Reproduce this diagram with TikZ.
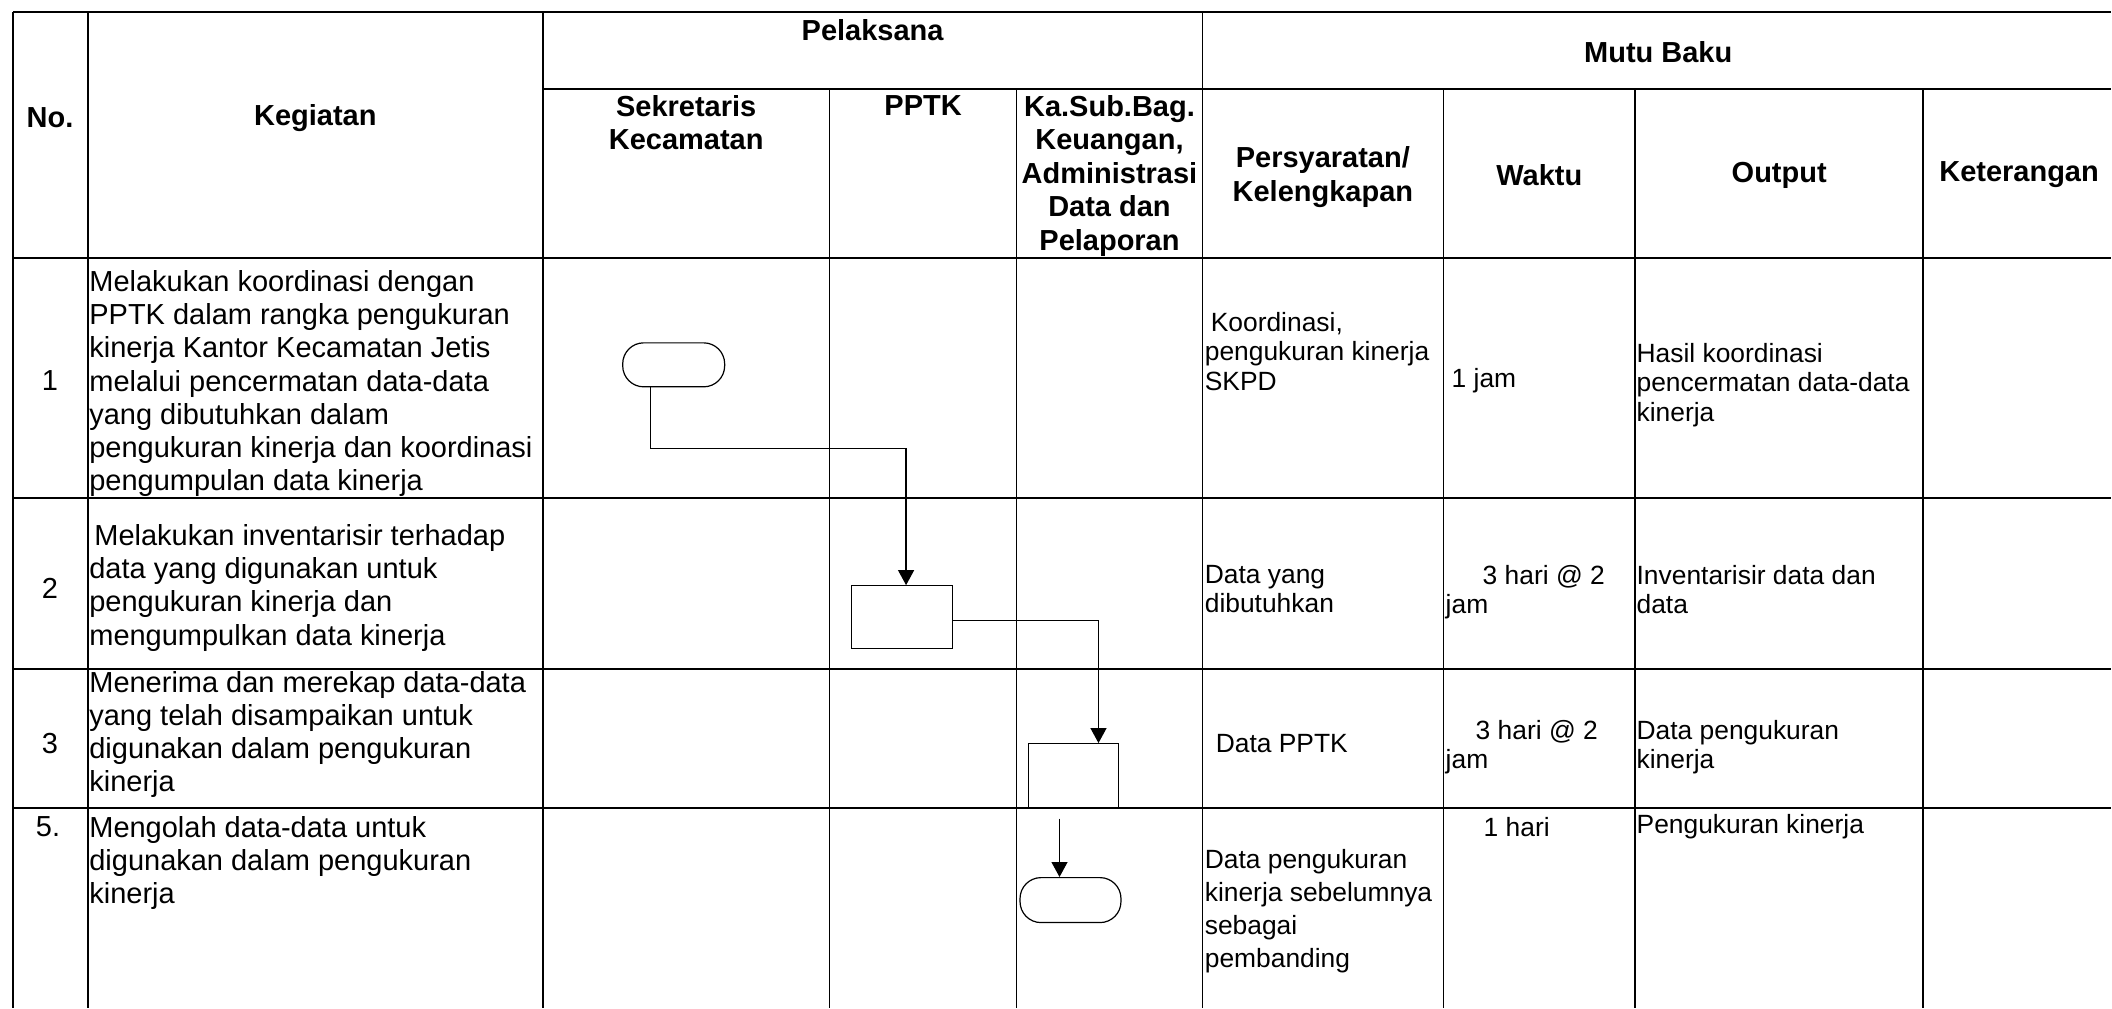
\documentclass[tikz,border=0pt]{standalone}
\usepackage{fontspec}
\setmainfont{Liberation Sans}
\usetikzlibrary{arrows.meta}

\begin{document}
\begin{tikzpicture}[x=0.5pt, y=-0.5pt,
    garis/.style={line width=0.8pt},
    garisrow/.style={line width=1pt},
    judul/.style={font=\fontsize{14.5}{16.75}\selectfont\bfseries, align=center, inner sep=0pt},
    isi/.style={font=\fontsize{14.5}{16.65}\selectfont, align=left, inner sep=0pt, anchor=north west},
    kecil/.style={font=\fontsize{13.2}{14.75}\selectfont, align=left, inner sep=0pt, anchor=north west},
    proses/.style={draw, line width=0.6pt, minimum width=50.5pt, minimum height=31.5pt, inner sep=0pt},
    mulai/.style={draw, line width=0.6pt, rounded corners=10.5pt, minimum width=51pt, minimum height=22pt, inner sep=0pt},
    alur/.style={line width=0.6pt, -{Triangle[length=7.5pt, width=8pt]}}]
  \fill[white] (0,0) rectangle (2112,1008);
  \draw[garisrow] (13,12) -- (2112,12);
  \draw[garisrow] (543,89) -- (2112,89);
  \foreach \y in {258,498,669,808} \draw[garisrow] (13,\y) -- (2112,\y);
  \foreach \x in {13,88,543,1203} \draw[garis] (\x,12) -- (\x,1008);
  \foreach \x in {830,1017,1444,1636,1924} \draw[garis] (\x,89) -- (\x,1008);

  \node[judul] (hno) at (50,118) {No.};
  \node[judul] (hkeg) at (315.5,118) {Kegiatan};
  \node[judul] (hpel) at (873,30) {Pelaksana};
  \node[judul] (hmutu) at (1659,52) {Mutu Baku};
  \node[judul, anchor=north] (hsek) at (686.5,95) {Sekretaris\\Kecamatan};
  \node[judul] (hpptk) at (923.5,106) {PPTK};
  \node[judul, anchor=north] (hka) at (1110,95) {Ka.Sub.Bag.\\Keuangan,\\Administrasi\\Data dan\\Pelaporan};
  \node[judul] (hpers) at (1323.5,177) {Persyaratan/\\Kelengkapan};
  \node[judul] (hwak) at (1540,175) {Waktu};
  \node[judul] (hout) at (1780,175) {Output};
  \node[judul] (hket) at (2020,175) {Keterangan};

  \node[isi, anchor=center] (n1) at (50,381) {1};
  \node[isi, anchor=center] (n2) at (50,589) {2};
  \node[isi, anchor=center] (n3) at (50,744) {3};
  \node[isi, anchor=center] (n5) at (48,827) {5.};

  \node[isi] (k1) at (89,270) {Melakukan koordinasi dengan\\PPTK dalam rangka pengukuran\\kinerja Kantor Kecamatan Jetis\\melalui pencermatan data-data\\yang dibutuhkan dalam\\pengukuran kinerja dan koordinasi\\pengumpulan data kinerja};
  \node[isi] (k2) at (89,524) {\hspace*{2.5pt}Melakukan inventarisir terhadap\\data yang digunakan untuk\\pengukuran kinerja dan\\mengumpulkan data kinerja};
  \node[isi] (k3) at (89,671) {Menerima dan merekap data-data\\yang telah disampaikan untuk\\digunakan dalam pengukuran\\kinerja};
  \node[isi] (k4) at (89,816) {Mengolah data-data untuk\\digunakan dalam pengukuran\\kinerja};

  \node[kecil] (p1) at (1205,312) {\hspace*{3pt}Koordinasi,\\pengukuran kinerja\\SKPD};
  \node[kecil, anchor=west] (w1) at (1452,381) {1 jam};
  \node[kecil] (o1) at (1637,343) {Hasil koordinasi\\pencermatan data-data\\kinerja};
  \node[kecil] (p2) at (1205,565) {Data yang\\dibutuhkan};
  \node[kecil] (w2) at (1446,565) {\hspace*{18.5pt}3 hari @ 2\\jam};
  \node[kecil] (o2) at (1637,565) {Inventarisir data dan\\data};
  \node[kecil, anchor=west] (p3) at (1216,744) {Data PPTK};
  \node[kecil] (w3) at (1446,720) {\hspace*{15pt}3 hari @ 2\\jam};
  \node[kecil] (o3) at (1637,720) {Data pengukuran\\kinerja};
  \node[kecil, font=\fontsize{13.2}{16.65}\selectfont] (p4) at (1205,849) {Data pengukuran\\kinerja sebelumnya\\sebagai\\pembanding};
  \node[kecil, anchor=west] (w4) at (1484,827) {1 hari};
  \node[kecil, anchor=west] (o4) at (1637,827) {Pengukuran kinerja};

  \node[mulai] (t1) at (674,365) {};
  \node[proses] (b2) at (902.5,617.5) {};
  \node[proses, minimum width=45pt, minimum height=32pt] (b3) at (1074,776) {};
  \node[mulai, minimum width=50.5pt, minimum height=22.5pt] (t5) at (1071,900.5) {};
  \coordinate (c5) at (1060,819);

  \draw[alur] ([xshift=-11.5pt]t1.south) -- ++(0,61) -| ([xshift=2pt]b2.north);
  \draw[alur] ([yshift=-1.5pt]b2.east) -| ([xshift=12.5pt]b3.north);
  \draw[alur] (c5) -- (c5 |- t5.north);
\end{tikzpicture}
\end{document}
